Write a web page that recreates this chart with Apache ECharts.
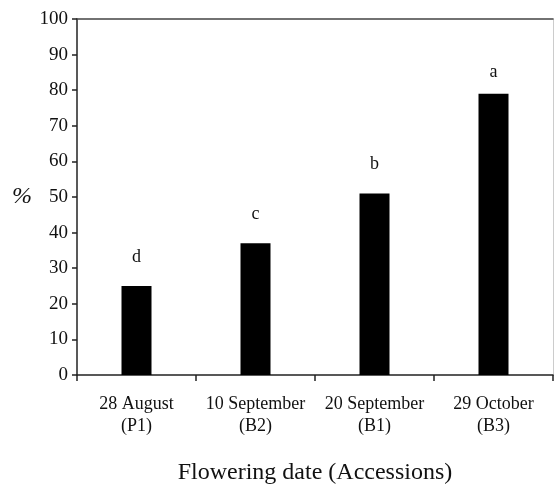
<!DOCTYPE html>
<html><head><meta charset="utf-8">
<script src="https://cdn.jsdelivr.net/npm/echarts@6/dist/echarts.min.js"></script>
<style>html,body{margin:0;padding:0;background:#fff}#c{width:554px;height:488px}</style>
</head><body><div id="c"></div>
<script>
var categories = ['28 August\n(P1)', '10 September\n(B2)', '20 September\n(B1)', '29 October\n(B3)'];
var values = [25, 37, 51, 79];
var letters = ['d', 'c', 'b', 'a'];
var yTicks = {min: 0, max: 100, interval: 10};
var labelGaps = [20, 20, 20, 12];
var font = 'Liberation Serif';
var ink = '#111';
var chart = echarts.init(document.getElementById('c'));
chart.setOption({
  animation: false,
  grid: {left: 77, right: 1, top: 19, bottom: 113, outerBoundsMode: 'none', containLabel: false},
  xAxis: [{
    type: 'category', data: categories, position: 'bottom',
    axisLine: {lineStyle: {color: '#222', width: 1.5}},
    axisTick: {show: true, interval: 0, length: 6, lineStyle: {color: '#222', width: 1.5}},
    axisLabel: {interval: 0, hideOverlap: false, color: ink, fontFamily: font, fontSize: 18, lineHeight: 22, margin: 18},
    name: 'Flowering date (Accessions)', nameLocation: 'middle', nameGap: 86,
    nameTextStyle: {color: ink, fontFamily: font, fontSize: 24}
  }, {
    type: 'category', data: categories, position: 'top',
    axisLine: {show: true, onZero: false, lineStyle: {color: '#444', width: 1.5}},
    axisTick: {show: false}, axisLabel: {show: false}
  }],
  yAxis: [{
    type: 'value', min: yTicks.min, max: yTicks.max, interval: yTicks.interval,
    axisLine: {show: true, lineStyle: {color: '#222', width: 1.5}},
    axisTick: {show: true, length: 5, lineStyle: {color: '#222', width: 1.5}},
    splitLine: {show: false},
    axisLabel: {color: ink, fontFamily: font, fontSize: 19, margin: 9},
    name: '%', nameLocation: 'middle', nameGap: 45, nameRotate: 0,
    nameTextStyle: {color: ink, fontFamily: font, fontSize: 24, fontStyle: 'italic'}
  }, {
    type: 'value', min: yTicks.min, max: yTicks.max, interval: yTicks.interval, position: 'right',
    axisLine: {show: true, onZero: false, lineStyle: {color: '#ccc', width: 1}},
    axisTick: {show: false}, axisLabel: {show: false}, splitLine: {show: false}
  }],
  series: [{
    type: 'bar', barWidth: 30,
    data: values.map(function (v, i) {
      return {value: v, label: {distance: labelGaps[i]}};
    }),
    itemStyle: {color: '#000'},
    label: {
      show: true, position: 'top',
      formatter: function (p) { return letters[p.dataIndex]; },
      color: ink, fontFamily: font, fontSize: 18
    }
  }]
});
</script></body></html>
